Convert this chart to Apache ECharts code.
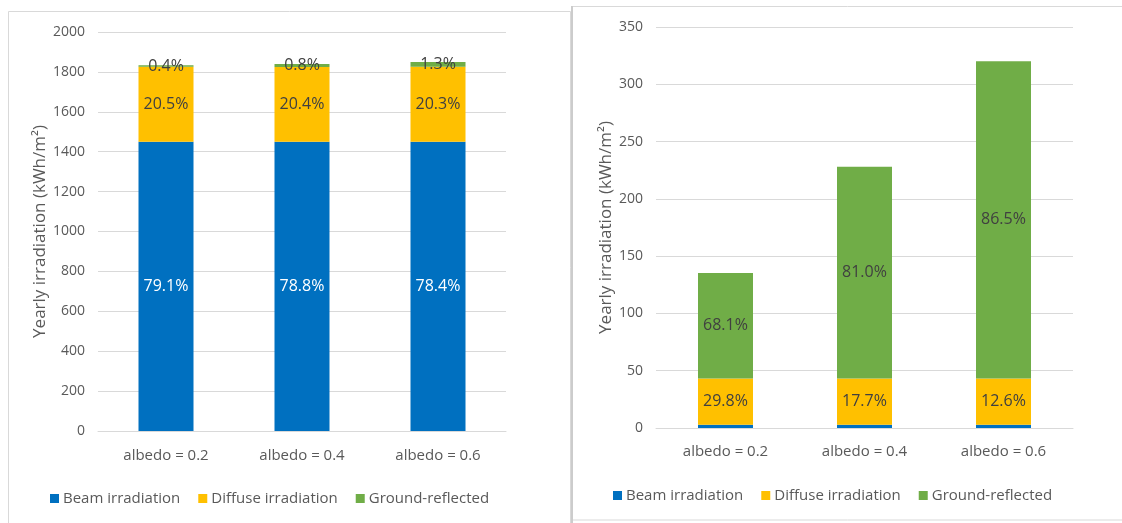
<!DOCTYPE html>
<html>
<head>
<meta charset="utf-8">
<script src="https://cdn.jsdelivr.net/npm/echarts@6/dist/echarts.min.js"></script>
<style>
  html, body { margin: 0; padding: 0; background: #ffffff; }
  #chart { width: 1122px; height: 523px; }
</style>
</head>
<body>
<div id="chart"></div>
<script>
// Categories shared by both panels
const categories = ['albedo = 0.2', 'albedo = 0.4', 'albedo = 0.6'];

// Left panel: total yearly irradiation components (kWh/m²)
const frontBeam = [1450, 1450, 1450];
const frontDiffuse = [376, 375, 375.4];
const frontGround = [7.3, 14.7, 24];

// Right panel: rear-side yearly irradiation components (kWh/m²)
const rearBeam = [2.9, 2.9, 2.9];
const rearDiffuse = [40.3, 40.4, 40.3];
const rearGround = [92.1, 184.7, 276.9];

const seriesNames = ['Beam irradiation', 'Diffuse irradiation', 'Ground-reflected'];
const colors = ['#0070C0', '#FFC000', '#70AD47'];
const FONT = 'Open Sans';
const GREY = '#595959';

function pctFormatter(parts) {
  return function (p) {
    const i = p.dataIndex;
    const total = parts.reduce((s, arr) => s + arr[i], 0);
    return (p.value / total * 100).toFixed(1) + '%';
  };
}

function makeSeries(parts, axisIndex, stackName, showLabel) {
  return parts.map((arr, k) => ({
    name: seriesNames[k],
    type: 'bar',
    stack: stackName,
    xAxisIndex: axisIndex,
    yAxisIndex: axisIndex,
    barWidth: 55,
    data: arr,
    itemStyle: { color: colors[k] },
    label: {
      show: showLabel[k],
      position: 'inside',
      fontFamily: FONT,
      fontSize: 16,
      color: k === 0 ? '#ffffff' : '#404040',
      formatter: pctFormatter(parts)
    }
  }));
}

const frontParts = [frontBeam, frontDiffuse, frontGround];
const rearParts = [rearBeam, rearDiffuse, rearGround];

function yAxisCfg(idx, max, interval, gap) {
  return {
    gridIndex: idx,
    type: 'value',
    min: 0, max: max, interval: interval,
    name: 'Yearly irradiation (kWh/m²)',
    nameLocation: 'middle',
    nameRotate: 90,
    nameGap: gap,
    nameTextStyle: { fontFamily: FONT, fontSize: 17, color: GREY },
    axisLine: { show: false },
    axisTick: { show: false },
    axisLabel: { fontFamily: FONT, fontSize: 14, color: GREY, margin: 13, formatter: v => String(v) },
    splitLine: { lineStyle: { color: '#d9d9d9', width: 1 } }
  };
}

function xAxisCfg(idx, margin) {
  return {
    gridIndex: idx,
    type: 'category',
    data: categories,
    axisLine: { lineStyle: { color: '#d9d9d9' } },
    axisTick: { show: false },
    axisLabel: { fontFamily: FONT, fontSize: 15, color: GREY, margin: margin }
  };
}

function legendCfg(left, top) {
  return {
    data: seriesNames,
    left: left, top: top,
    padding: 0,
    icon: 'rect',
    itemWidth: 9, itemHeight: 9,
    itemGap: 18,
    textStyle: { fontFamily: FONT, fontSize: 15, color: GREY, padding: [0, 0, 0, -1] }
  };
}

const chart = echarts.init(document.getElementById('chart'), null, { renderer: 'canvas' });
chart.setOption({
  animation: false,
  backgroundColor: '#ffffff',
  graphic: [
    { type: 'rect', silent: true, shape: { x: 8.5, y: 11.5, width: 562, height: 530 },
      style: { fill: 'none', stroke: '#d9d9d9', lineWidth: 1 } },
    { type: 'rect', silent: true, shape: { x: 572, y: 6.5, width: 560, height: 513.5 },
      style: { fill: 'none', stroke: '#d9d9d9', lineWidth: 1 } },
    { type: 'line', silent: true, shape: { x1: 572, y1: 6, x2: 572, y2: 523 },
      style: { stroke: '#cccccc', lineWidth: 2 } }
  ],
  grid: [
    { left: 98, right: 616, top: 32, bottom: 92 },
    { left: 656, right: 49, top: 27, bottom: 95 }
  ],
  xAxis: [xAxisCfg(0, 17), xAxisCfg(1, 16)],
  yAxis: [yAxisCfg(0, 2000, 200, 48), yAxisCfg(1, 350, 50, 41)],
  legend: [legendCfg(50, 491), legendCfg(613, 488)],
  series: [
    ...makeSeries(frontParts, 0, 'front', [true, true, true]),
    ...makeSeries(rearParts, 1, 'rear', [false, true, true])
  ]
});
</script>
</body>
</html>
